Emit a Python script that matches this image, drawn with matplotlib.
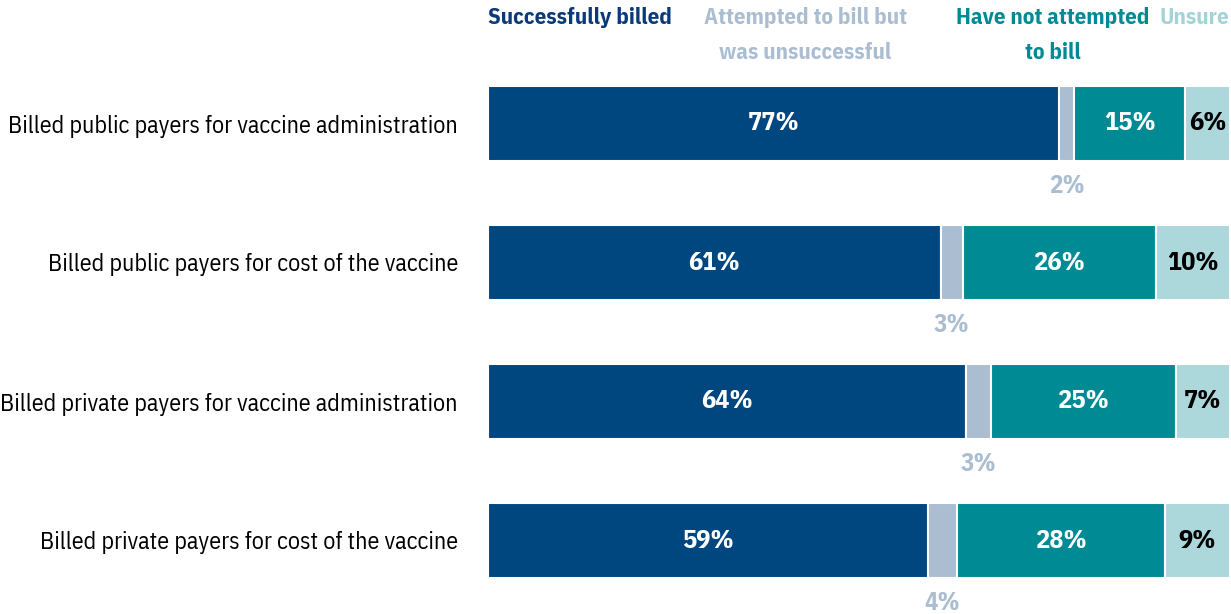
import matplotlib
matplotlib.use('Agg')
import matplotlib.pyplot as plt

# rows top -> bottom, shares (labels are rounded)
CATEGORIES = [
    'Billed public payers for vaccine administration',
    'Billed public payers for cost of the vaccine',
    'Billed private payers for vaccine administration',
    'Billed private payers for cost of the vaccine',
]
SERIES = ['Successfully billed', 'Attempted to bill but\nwas unsuccessful',
          'Have not attempted\nto bill', 'Unsure']
SUCCESS = [77.0, 61.0, 64.4, 59.3]
ATTEMPTED = [2.0, 3.0, 3.4, 3.9]
NOT_ATTEMPTED = [15.0, 26.0, 24.9, 28.0]
UNSURE = [6.0, 10.0, 7.3, 8.8]

COLORS = ['#00467f', '#abbdd0', '#008a94', '#acd8dc']
HEAD_COLORS = ['#0b3a78', '#abbdd0', '#008a94', '#a3d3d7']
LABEL_COLORS = ['white', None, 'white', 'black']

plt.rcParams['font.family'] = ['IBM Plex Sans Condensed', 'DejaVu Sans']

fig = plt.figure(figsize=(12.31, 6.14), dpi=100)
ax = fig.add_axes([488 / 1231, 1 - 610 / 614, 742 / 1231, 556 / 614])

data = [SUCCESS, ATTEMPTED, NOT_ATTEMPTED, UNSURE]
ys = list(range(len(CATEGORIES)))
left = [0.0] * len(CATEGORIES)
for k, vals in enumerate(data):
    ax.barh(ys, vals, left=left, height=0.54, color=COLORS[k],
            edgecolor='white', linewidth=1.5)
    for i, v in enumerate(vals):
        cx = left[i] + v / 2
        if LABEL_COLORS[k] is None:
            # thin segment -> label hangs below the bar
            ax.text(cx, i + 0.45, '%.0f%%' % v, ha='center', va='center',
                    color=COLORS[k], fontsize=18, fontweight='bold')
        else:
            ax.text(cx, i, '%.0f%%' % v, ha='center', va='center',
                    color=LABEL_COLORS[k], fontsize=19, fontweight='bold')
    left = [l + v for l, v in zip(left, vals)]

ax.set_xlim(0, 100)
ax.set_ylim(len(CATEGORIES) - 0.5, -0.5)
ax.set_yticks(ys)
ax.set_yticklabels(CATEGORIES, fontsize=17.3)
ax.tick_params(axis='y', length=0, pad=21.6)
ax.set_xticks([])
for s in ax.spines.values():
    s.set_visible(False)

# column headers above the bars
head_x = [488 / 1231, 805 / 1231, 1053 / 1231, 1229 / 1231]
head_ha = ['left', 'center', 'center', 'right']
for k, name in enumerate(SERIES):
    fig.text(head_x[k], 1 - 7 / 614, name, ha=head_ha[k], va='top',
             color=HEAD_COLORS[k], fontsize=16.5, fontweight='bold',
             linespacing=1.8)

fig.savefig('out.png', dpi=100, facecolor='white')
